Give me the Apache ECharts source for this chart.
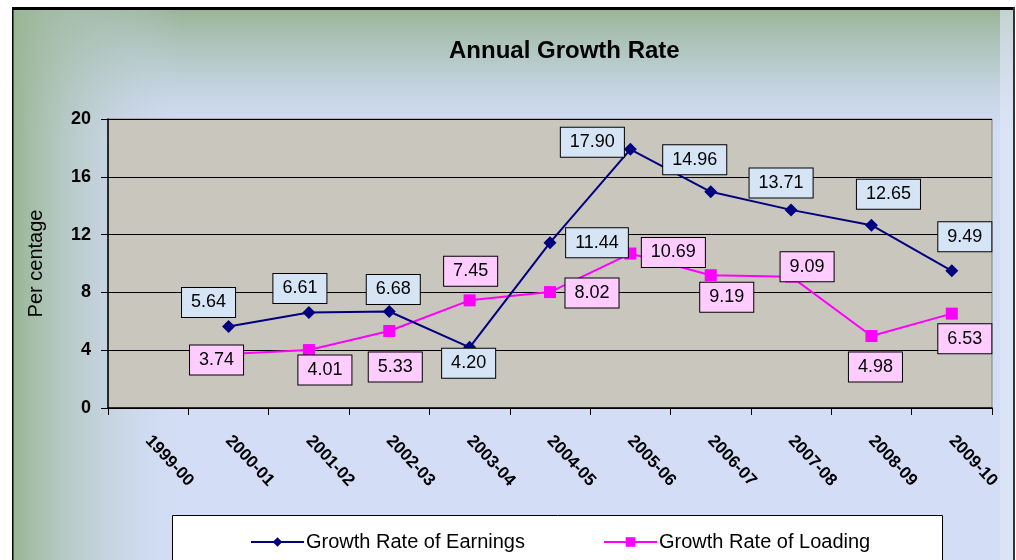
<!DOCTYPE html>
<html>
<head>
<meta charset="utf-8">
<script src="https://cdn.jsdelivr.net/npm/echarts@6/dist/echarts.min.js"></script>
<style>
html,body{margin:0;padding:0;background:#fff;}
#c{width:1016px;height:560px;}
</style>
</head>
<body>
<div id="c"></div>
<script>
// ---- data ----
const categories = ['1999-00','2000-01','2001-02','2002-03','2003-04','2004-05','2005-06','2006-07','2007-08','2008-09','2009-10'];
const earnings = [null, 5.64, 6.61, 6.68, 4.20, 11.44, 17.90, 14.96, 13.71, 12.65, 9.49];
const loading  = [null, 3.74, 4.01, 5.33, 7.45, 8.02, 10.69, 9.19, 9.09, 4.98, 6.53];
const seriesNames = ['Growth Rate of Earnings', 'Growth Rate of Loading'];
const yTicks = {min: 0, max: 20, interval: 4};

// ---- label placement (layout only: offset of label centre from point) ----
const earnOffsets = [null, [-20,-24], [-9,-24], [4,-22], [-1,16], [47,0], [-38,-7], [-16,-32], [-10,-27], [17,-31], [13,-34]];
const loadOffsets = [null, [-12,6], [16,20], [6,36], [1,-29], [42,1], [43,-1], [16,22], [16,-10], [4,31], [13,25]];

const FONT = "'Liberation Sans', Arial, sans-serif";

function layoutFor(offs) {
  return function (p) {
    const o = offs[p.dataIndex] || [0, 0];
    return { dx: o[0], dy: o[1], hideOverlap: false, moveOverlap: null };
  };
}

const labelBase = {
  show: true, position: 'inside',
  formatter: p => Number(p.value).toFixed(2),
  fontFamily: FONT, fontSize: 18, color: '#000',
  borderColor: '#000', borderWidth: 1,
  padding: [6, 9, 5, 9]
};

const chart = echarts.init(document.getElementById('c'), null, {renderer: 'canvas'});
chart.setOption({
  animation: false,
  backgroundColor: '#ffffff',
  textStyle: { fontFamily: FONT },
  graphic: [
    { type: 'rect', z: -10, silent: true, shape: {x: 13, y: 9, width: 1000, height: 560},
      style: { fill: '#d3def6' } },
    { type: 'rect', z: -9, silent: true, shape: {x: 13, y: 9, width: 1000, height: 130},
      style: { fill: { type: 'linear', x: 0, y: 0, x2: 0, y2: 1, colorStops: [
        {offset: 0, color: 'rgba(152,180,150,1)'},
        {offset: 0.35, color: 'rgba(165,190,175,0.7)'},
        {offset: 1, color: 'rgba(190,205,215,0)'}]} } },
    { type: 'rect', z: -9, silent: true, shape: {x: 13, y: 9, width: 170, height: 560},
      style: { fill: { type: 'linear', x: 0, y: 0, x2: 1, y2: 0, colorStops: [
        {offset: 0, color: 'rgba(152,182,148,1)'},
        {offset: 0.3, color: 'rgba(170,192,175,0.7)'},
        {offset: 1, color: 'rgba(200,212,230,0)'}]} } },
    { type: 'rect', z: -8, silent: true, shape: {x: 1000, y: 9, width: 13, height: 560},
      style: { fill: 'rgba(225,232,248,0.6)' } },
    { type: 'rect', z: -7, silent: true, shape: {x: 12, y: 7, width: 1003, height: 3},
      style: { fill: '#000' } },
    { type: 'rect', z: -7, silent: true, shape: {x: 12, y: 7, width: 1.5, height: 560},
      style: { fill: '#000' } },
    { type: 'rect', z: -7, silent: true, shape: {x: 1013, y: 7, width: 2, height: 560},
      style: { fill: '#333' } },
    { type: 'rect', z: -5, silent: true, shape: {x: 172.5, y: 515.5, width: 770, height: 60},
      style: { fill: '#ffffff', stroke: '#000', lineWidth: 1 } }
  ],
  title: {
    text: 'Annual Growth Rate',
    left: 444, top: 34,
    textStyle: { fontFamily: FONT, fontSize: 24, fontWeight: 'bold', color: '#000' }
  },
  legend: {
    left: 245, top: 527,
    itemWidth: 53, itemHeight: 12, itemGap: 78,
    textStyle: { fontFamily: FONT, fontSize: 20, color: '#000', padding: [0, 0, 0, -3] },
    data: seriesNames
  },
  grid: { left: 108, right: 24, top: 119, bottom: 152, show: true,
          backgroundColor: '#c9c6be', borderColor: '#7f7f7f', borderWidth: 1 },
  xAxis: {
    type: 'category',
    data: categories,
    boundaryGap: true,
    axisLine: { lineStyle: { color: '#000', width: 1.5 } },
    axisTick: { show: true, length: 7, lineStyle: { color: '#000' } },
    axisLabel: { rotate: -47, margin: 30, interval: 0, fontFamily: FONT, fontSize: 17, fontWeight: 'bold', color: '#000' },
    splitLine: { show: false }
  },
  yAxis: {
    type: 'value',
    min: yTicks.min, max: yTicks.max, interval: yTicks.interval,
    name: 'Per centage',
    nameLocation: 'middle',
    nameGap: 62,
    nameTextStyle: { fontFamily: FONT, fontSize: 20, color: '#000' },
    axisLine: { show: true, lineStyle: { color: '#000', width: 1.5 } },
    axisTick: { show: true, length: 7, lineStyle: { color: '#000' } },
    axisLabel: { margin: 17, fontFamily: FONT, fontSize: 18, fontWeight: 'bold', color: '#000' },
    splitLine: { show: true, lineStyle: { color: '#000', width: 1 } }
  },
  series: [
    {
      name: seriesNames[0],
      type: 'line',
      data: earnings,
      symbol: 'diamond', symbolSize: 13,
      z: 3,
      itemStyle: { color: '#000080' },
      lineStyle: { color: '#000080', width: 2 },
      label: Object.assign({}, labelBase, { backgroundColor: '#d6e5f5' }),
      labelLayout: layoutFor(earnOffsets)
    },
    {
      name: seriesNames[1],
      type: 'line',
      data: loading,
      symbol: 'rect', symbolSize: 12,
      z: 2,
      itemStyle: { color: '#ff00ff' },
      lineStyle: { color: '#ff00ff', width: 2 },
      label: Object.assign({}, labelBase, { backgroundColor: '#ffccff' }),
      labelLayout: layoutFor(loadOffsets)
    }
  ]
});
</script>
</body>
</html>
